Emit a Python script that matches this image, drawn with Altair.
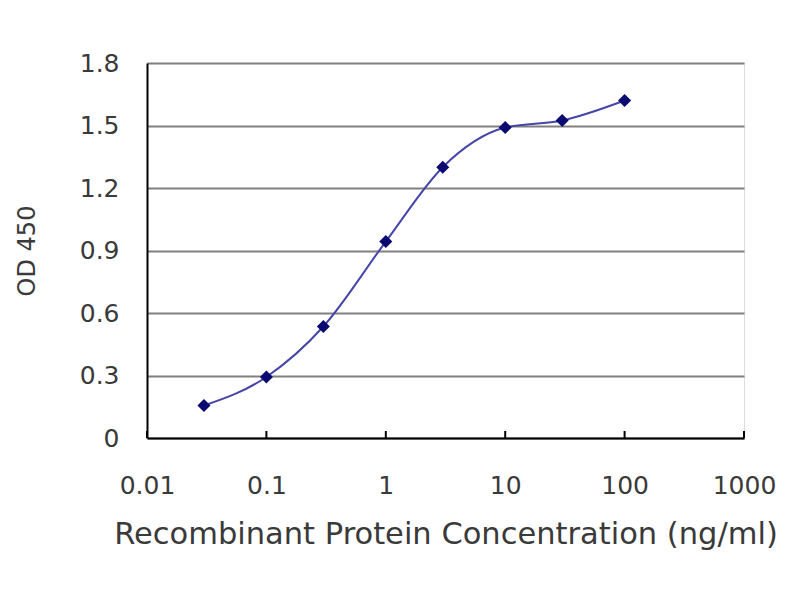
import altair as alt
import pandas as pd

conc = [0.03, 0.1, 0.3, 1, 3, 10, 30, 100]
od = [0.156, 0.293, 0.535, 0.943, 1.300, 1.490, 1.524, 1.620]
x_ticks = [0.01, 0.1, 1, 10, 100, 1000]
y_ticks = [0, 0.3, 0.6, 0.9, 1.2, 1.5, 1.8]

df = pd.DataFrame({"conc": conc, "od": od})
tick_df = pd.DataFrame({"t": x_ticks})

W, H = 597, 375
FONT = "DejaVu Sans"
TXT = "#3a3a3a"

xscale = alt.Scale(type="log", domain=[0.01, 1000], nice=False)
yscale = alt.Scale(domain=[0, 1.8], nice=False)

xaxis = alt.Axis(
    values=x_ticks, format="~g", ticks=False, tickSize=0, labelPadding=35,
    grid=False, domainColor="#000000", domainWidth=2,
    labelFont=FONT, labelFontSize=25, labelColor=TXT,
    title="Recombinant Protein Concentration (ng/ml)",
    titleFont=FONT, titleFontSize=30.5, titleFontWeight="normal", titleColor=TXT,
    titlePadding=21, labelFlush=False,
)
yaxis = alt.Axis(
    values=y_ticks, format="~g", ticks=False, tickSize=0, labelPadding=28,
    grid=True, gridColor="#808080", gridWidth=2,
    domainColor="#000000", domainWidth=2,
    labelFont=FONT, labelFontSize=25, labelColor=TXT,
    title="OD 450", titleFont=FONT, titleFontSize=24, titleFontWeight="normal",
    titleColor=TXT, titlePadding=40,
)

line = alt.Chart(df).mark_line(
    interpolate="monotone", color="#4646a8", strokeWidth=2
).encode(
    x=alt.X("conc:Q", scale=xscale, axis=xaxis),
    y=alt.Y("od:Q", scale=yscale, axis=yaxis),
)

pts = alt.Chart(df).mark_point(
    shape="diamond", filled=True, color="#0a0a70", size=170, opacity=1
).encode(
    x=alt.X("conc:Q", scale=xscale),
    y=alt.Y("od:Q", scale=yscale),
)

ticks = alt.Chart(tick_df).mark_rule(color="#000000", strokeWidth=2).encode(
    x=alt.X("t:Q", scale=xscale),
    y=alt.value(H - 7),
    y2=alt.value(H),
)

chart = alt.layer(line, ticks, pts).properties(
    width=W, height=H,
    autosize=alt.AutoSizeParams(type="none"),
    padding={"left": 139, "top": 55, "right": 40, "bottom": 140},
).configure_view(
    stroke="#808080", strokeWidth=2
).configure(background="white")

chart.save("out.html", embed_options={"renderer": "svg", "actions": False})
